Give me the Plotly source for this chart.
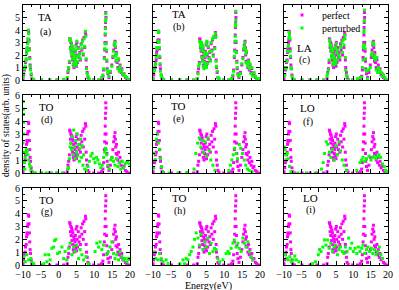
import plotly.graph_objects as go
from plotly.subplots import make_subplots

# ---------------- data ----------------
perf_E = [-10.0, -9.8, -9.6, -9.4, -9.3, -9.1, -9.0, -8.9, -8.8, -8.7,
          -8.6, -8.5, -8.4, -8.3, -8.2, -8.1, -8.0, -7.9, -7.7, -7.5,
          -7.0, -4.8, -2.5, -0.5, 1.4,
          2.4, 2.6, 2.8, 3.0, 3.1, 3.2, 3.3, 3.4, 3.5, 3.6,
          3.7, 3.8, 3.9, 4.0, 4.1, 4.2, 4.3, 4.4, 4.5, 4.6,
          4.7, 4.8, 4.9, 5.0, 5.1, 5.2, 5.3, 5.5, 5.7, 5.9,
          6.1, 6.3, 6.5, 6.7, 6.9, 7.1, 7.3, 7.5, 7.6, 7.7,
          7.8, 8.0, 8.2, 8.5,
          9.8, 11.2,
          12.0, 12.4, 12.6, 12.8, 12.9, 13.0, 13.05, 13.1, 13.15, 13.2,
          13.25, 13.3, 13.4, 13.5, 13.6, 13.8, 14.1, 14.5, 14.9, 15.2,
          15.4, 15.6, 15.8, 15.9, 16.0, 16.1, 16.2, 16.4, 16.6, 16.8,
          17.0, 17.2, 17.5, 17.7, 18.0, 18.3, 18.7, 19.1, 19.6]

perf_D = [0.1, 0.4, 0.8, 1.0, 1.4, 1.6, 2.2, 2.5, 2.4, 3.0,
          3.2, 3.9, 3.8, 3.2, 2.5, 1.8, 1.2, 0.9, 0.4, 0.1,
          0, 0, 0, 0, 0,
          0.1, 0.6, 0.9, 1.4, 3.3, 3.2, 2.6, 3.0, 2.3, 2.9,
          1.9, 2.7, 1.6, 2.5, 1.2, 2.2, 1.0, 2.0, 1.5, 1.8,
          2.3, 1.3, 2.8, 1.1, 3.0, 2.0, 1.4, 2.6, 1.8, 2.2,
          1.6, 2.9, 2.4, 3.2, 2.0, 3.4, 2.6, 3.8, 3.6, 1.6,
          1.0, 0.6, 0.2, 0.05,
          0, 0,
          0.1, 0.3, 0.8, 1.8, 2.4, 3.0, 3.6, 4.2, 4.6, 5.4,
          5.0, 3.0, 2.3, 1.5, 0.9, 0.5, 0.2, 0.6, 1.2, 1.8,
          2.4, 2.8, 3.1, 2.6, 2.0, 1.5, 2.2, 1.4, 1.0, 1.6,
          0.8, 1.2, 0.6, 0.9, 0.4, 0.5, 0.2, 0.1, 0.0]

# perturbed, panels (a)-(c): same energy grid as perfect
pert_a_D = [0.2, 0.5, 0.9, 1.1, 1.5, 1.7, 2.1, 2.4, 2.6, 2.9,
            3.3, 4.0, 3.7, 3.1, 2.4, 1.7, 1.1, 0.8, 0.5, 0.1,
            0, 0, 0, 0, 0.05,
            0.2, 0.7, 1.0, 1.5, 3.2, 3.3, 2.5, 3.1, 2.2, 2.8,
            2.0, 2.6, 1.7, 2.4, 1.3, 2.1, 1.1, 1.9, 1.6, 1.7,
            2.4, 1.4, 2.7, 1.2, 3.1, 1.9, 1.5, 2.5, 1.9, 2.1,
            1.7, 2.8, 2.5, 3.1, 2.1, 3.3, 2.7, 3.9, 3.5, 1.7,
            0.9, 0.5, 0.3, 0.1,
            0, 0,
            0.2, 0.4, 0.9, 1.7, 2.5, 2.9, 3.7, 4.1, 4.7, 5.3,
            4.9, 2.9, 2.4, 1.6, 0.8, 0.6, 0.3, 0.7, 1.1, 1.9,
            2.3, 2.9, 3.0, 2.7, 1.9, 1.6, 2.1, 1.5, 0.9, 1.7,
            0.7, 1.1, 0.7, 0.8, 0.5, 0.4, 0.3, 0.2, 0.05]

pert_b_D = [0.1, 0.6, 0.8, 1.2, 1.3, 1.8, 2.0, 2.6, 2.5, 3.1,
            3.1, 3.8, 3.9, 3.0, 2.6, 1.9, 1.3, 0.7, 0.4, 0.2,
            0, 0, 0, 0, 0,
            0.1, 0.5, 1.1, 1.3, 3.1, 3.0, 2.7, 2.9, 2.4, 3.0,
            1.8, 2.8, 1.5, 2.6, 1.1, 2.3, 0.9, 2.1, 1.4, 1.9,
            2.2, 1.2, 2.9, 1.0, 3.1, 2.1, 1.3, 2.7, 1.7, 2.3,
            1.5, 3.0, 2.3, 3.3, 1.9, 3.5, 2.5, 3.7, 3.4, 1.5,
            1.1, 0.7, 0.2, 0.1,
            0, 0,
            0.1, 0.4, 0.7, 1.9, 2.3, 3.1, 3.5, 4.3, 4.5, 5.5,
            4.8, 3.1, 2.2, 1.4, 1.0, 0.4, 0.3, 0.5, 1.3, 1.7,
            2.5, 2.7, 3.0, 2.5, 2.1, 1.4, 2.3, 1.3, 1.1, 1.5,
            0.9, 1.3, 0.5, 1.0, 0.3, 0.6, 0.3, 0.1, 0.1]

pert_c_D = [0.3, 0.4, 1.0, 0.9, 1.5, 1.5, 2.3, 2.3, 2.7, 2.8,
            3.4, 3.8, 3.6, 3.3, 2.3, 1.9, 1.0, 0.9, 0.3, 0.1,
            0, 0, 0, 0, 0,
            0.3, 0.5, 0.8, 1.6, 3.2, 3.1, 2.8, 2.8, 2.4, 2.7,
            2.0, 2.5, 1.8, 2.3, 1.4, 2.0, 1.2, 1.8, 1.7, 1.6,
            2.5, 1.5, 2.6, 1.3, 2.9, 2.2, 1.6, 2.4, 2.0, 2.0,
            1.8, 2.7, 2.6, 3.0, 2.2, 3.2, 2.8, 3.6, 3.3, 1.8,
            0.8, 0.4, 0.3, 0.0,
            0, 0.1,
            0.2, 0.2, 1.0, 1.6, 2.6, 2.8, 3.8, 4.0, 4.8, 5.6,
            4.7, 2.8, 2.5, 1.7, 0.8, 0.7, 0.1, 0.8, 1.0, 2.0,
            2.2, 3.0, 2.9, 2.8, 1.8, 1.7, 2.0, 1.6, 0.8, 1.8,
            0.6, 1.0, 0.8, 0.7, 0.6, 0.3, 0.4, 0.2, 0.0]

# perturbed, panel (d) TO
pert_d_E = [-10.0, -9.95, -9.9, -9.85, -9.8, -9.75, -9.7, -9.6, -9.5, -9.4,
            -9.2, -9.0, -8.8, -8.6, -8.4, -8.2, -8.0, -7.8, -7.5,
            -6.5, -5.0, -3.5, -2.0, -0.5, 1.0,
            2.5, 2.8, 3.0, 3.2, 3.4, 3.6, 3.8, 4.0, 4.2, 4.4,
            4.6, 4.8, 5.0, 5.2, 5.4, 5.6, 5.8, 6.0, 6.2, 6.4,
            6.6, 6.8, 7.0, 7.3,
            7.8, 8.2, 8.6, 9.0, 9.4, 9.8, 10.2, 10.6, 11.0, 11.4, 11.8, 12.2,
            12.6, 12.9, 13.1, 13.3, 13.5, 13.8, 14.2, 14.6, 15.0, 15.4,
            15.8, 16.2, 16.6, 17.0, 17.4, 17.8, 18.2, 18.6, 19.0, 19.4, 19.8]
pert_d_D = [2.3, 5.5, 4.9, 4.5, 3.9, 3.0, 1.6, 0.8, 0.3, 1.2,
            1.5, 1.8, 1.7, 1.4, 1.0, 0.7, 0.5, 0.2, 0.1,
            0, 0, 0, 0, 0, 0,
            0.3, 0.4, 1.1, 2.0, 2.3, 1.8, 2.8, 1.4, 3.3, 2.0,
            1.1, 2.5, 1.6, 3.0, 1.3, 2.2, 0.9, 1.9, 2.6, 1.2,
            2.1, 0.6, 1.4, 0.3,
            0.2, 0.5, 0.9, 1.3, 1.5, 1.1, 0.8, 1.2, 1.0, 0.7, 0.4, 0.6,
            1.2, 1.6, 1.9, 1.8, 1.4, 0.6, 0.3, 1.0, 1.2, 0.9,
            0.6, 1.1, 0.5, 0.8, 0.3, 0.9, 0.4, 0.7, 0.8, 0.9, 0.7]

# perturbed, panel (e) TO
pert_e_E = [-9.9, -9.6, -9.3, -9.0, -8.8, -8.5, -8.2, -7.9, -7.6, -7.3,
            -5.5, -3.0, -0.5,
            1.5, 2.0, 2.5, 3.0, 3.4, 3.8, 4.2, 4.6, 5.0, 5.4, 5.8, 6.2, 6.8, 7.4,
            11.3, 11.7, 12.1, 12.5, 12.9, 13.3, 13.7, 14.2, 14.6, 15.1,
            15.6, 16.0, 16.5, 17.0, 17.8]
pert_e_D = [0.4, 1.5, 1.0, 2.6, 3.0, 2.3, 1.8, 1.1, 0.5, 0.1,
            0, 0, 0.05,
            0.3, 1.5, 2.3, 2.7, 2.0, 2.5, 1.6, 2.4, 1.3, 2.7, 1.7, 1.0, 0.6, 0.2,
            0.2, 0.6, 1.0, 1.4, 1.9, 1.5, 1.1, 2.2, 1.9, 1.5,
            1.0, 0.6, 0.3, 0.2, 0.1]

# perturbed, panel (f) LO
pert_f_E = [-9.9, -9.7, -9.5, -9.3, -9.1, -8.8, -8.4, -8.0, -7.5,
            -6.0, -3.5, -1.0,
            0.8, 1.3, 1.7, 2.2, 2.6, 3.1, 3.5, 4.0, 4.5, 5.0, 5.4, 5.9, 6.3, 6.8, 7.3, 8.0,
            11.0, 11.9, 12.4, 12.8, 13.3, 13.8, 14.5, 15.1, 15.6, 16.0,
            16.5, 17.0, 17.4, 17.9, 18.4, 18.9, 19.3, 19.7]
pert_f_D = [2.0, 1.8, 1.4, 1.0, 1.5, 1.1, 0.5, 0.1, 0.05,
            0, 0, 0,
            0.3, 0.8, 1.5, 2.4, 2.2, 1.6, 1.2, 1.8, 1.0, 2.1, 1.4, 2.4, 1.7, 1.0, 0.6, 0.2,
            0.2, 0.8, 1.0, 1.2, 0.9, 1.1, 1.3, 1.0, 1.2, 1.3,
            1.1, 1.3, 1.4, 1.2, 0.7, 0.5, 0.2, 0.1]

# perturbed, panel (g) TO
pert_g_E = [-9.8, -9.35, -8.9, -8.4, -7.8, -7.5, -7.0,
            -4.2, -3.8, -3.3, -2.8, -2.4,
            -1.9, -1.4, -1.15, -0.8, -0.3, 0.25, 0.9, 1.4, 1.8, 2.3,
            2.8, 3.2, 3.7, 4.2, 4.6, 5.1, 5.6, 6.0, 6.5, 7.0, 7.7, 8.4,
            10.2, 10.7, 11.2, 11.6, 12.1, 12.6, 13.5, 13.9, 14.4, 14.9,
            15.4, 15.8, 16.3, 16.8, 17.2, 17.7, 18.2, 18.6, 19.1, 19.5, 19.9]
pert_g_D = [0.65, 0.25, 0.8, 0.4, 0.5, 0.2, 0.1,
            0.1, 0.8, 0.25, 0.8, 0.4,
            1.3, 1.4, 1.9, 2.0, 0.9, 1.0, 1.4, 0.5, 1.05, 0.4,
            1.3, 1.7, 0.8, 1.4, 1.05, 1.55, 0.5, 1.2, 0.8, 0.4, 0.65, 0.1,
            1.05, 1.7, 1.4, 1.8, 1.2, 1.55, 0.8, 1.05, 1.4, 1.8,
            0.9, 0.5, 0.8, 0.4, 1.05, 0.65, 0.4, 0.5, 0.25, 0.5, 0.4]

# perturbed, panel (h) TO
pert_h_E = [-9.8, -9.25, -8.6, -8.15, -7.7, -7.2, -6.3, -5.8,
            -2.5, -1.6, -1.15, -0.7, -0.2, 0.25, 0.7, 1.2, 1.65, 2.1,
            2.6, 3.05, 3.5, 4.0, 4.45, 4.9, 5.4, 5.85, 6.3, 6.8,
            7.25, 7.7, 8.2, 8.65, 9.6,
            10.5, 11.0, 11.4, 11.9, 12.4, 12.8, 13.3, 13.8, 14.2, 14.7,
            15.2, 15.6, 16.1, 16.6, 17.0, 17.5, 18.0]
pert_h_D = [1.0, 0.5, 0.4, 0.9, 0.5, 0.25, 0.4, 0.1,
            0.1, 0.4, 0.1, 0.5, 0.4, 0.8, 1.05, 1.4, 2.0, 2.5,
            2.1, 1.55, 2.4, 1.2, 1.8, 1.4, 2.1, 0.9, 1.7, 1.05,
            1.3, 1.2, 0.5, 0.25, 0.4,
            0.9, 1.05, 0.9, 1.3, 1.7, 1.95, 1.4, 1.7, 1.3, 1.05,
            2.1, 1.7, 1.4, 1.8, 1.05, 0.65, 0.4]

# perturbed, panel (i) LO
pert_i_E = [-9.7, -9.25, -8.8, -8.3, -7.85, -7.4, -6.9, -6.45, -5.7,
            -1.8, -0.9, -0.1, 0.25, 0.7, 1.2, 1.65, 2.1, 2.6, 3.05,
            3.5, 4.0, 4.45, 4.9, 5.4, 5.85, 6.3, 6.8, 7.25, 7.7,
            8.2, 8.65, 9.1, 9.55, 10.0, 10.5, 11.0, 11.45, 11.9, 12.4,
            12.8, 13.3, 13.8, 14.2, 14.7, 15.2, 15.6, 16.1, 16.55, 17.0,
            17.5, 17.95, 18.4]
pert_i_D = [0.8, 0.5, 0.4, 0.65, 0.25, 0.4, 0.7, 0.4, 0.25,
            0.1, 0.25, 0.8, 1.2, 1.05, 1.4, 1.95, 1.55, 1.95, 1.3,
            1.7, 1.05, 1.4, 1.55, 0.8, 1.2, 1.4, 1.05, 0.9, 1.4,
            1.05, 2.1, 1.3, 1.7, 1.05, 1.3, 0.9, 1.4, 1.05, 1.3,
            1.55, 0.9, 1.2, 1.4, 1.05, 1.3, 0.9, 1.2, 0.8, 1.05,
            1.4, 0.8, 0.5]

mode_labels = ["TA", "TA", "LA", "TO", "TO", "LO", "TO", "TO", "LO"]
panel_letters = ["(a)", "(b)", "(c)", "(d)", "(e)", "(f)", "(g)", "(h)", "(i)"]
x_ticks = [-10, -5, 0, 5, 10, 15, 20]
y_ticks = [0, 1, 2, 3, 4, 5, 6]
series_names = ["perfect", "perturbed"]

pert_E = [perf_E, perf_E, perf_E, pert_d_E, pert_e_E, pert_f_E, pert_g_E, pert_h_E, pert_i_E]
pert_D = [pert_a_D, pert_b_D, pert_c_D, pert_d_D, pert_e_D, pert_f_D, pert_g_D, pert_h_D, pert_i_D]

# label positions (data coords) per panel
mode_pos = [(-3.8, 5.05), (-2.85, 5.25), (-3.95, 2.6), (-3.3, 5.1), (-2.9, 5.15),
            (-3.1, 5.0), (-3.3, 5.1), (-2.45, 5.2), (-2.5, 5.25)]
letter_pos = [(-3.8, 3.85), (-2.85, 4.25), (-3.95, 1.6), (-3.3, 4.1), (-2.9, 4.15),
              (-3.1, 3.9), (-3.3, 4.1), (-2.45, 4.2), (-2.5, 4.25)]

# ---------------- figure ----------------
W, H = 399, 290
FONT = "Liberation Serif"
MAG = "#ff00ff"
GRN = "#00ff00"

fig = make_subplots(rows=3, cols=3)

col_px = [(23, 130), (153, 260), (284, 388)]
row_px = [(5, 80), (95, 173), (188, 265)]

for k in range(9):
    r, c = k // 3 + 1, k % 3 + 1
    fig.add_trace(go.Scatter(x=perf_E, y=perf_D, mode="markers", name=series_names[0],
                             marker=dict(color=MAG, size=3, symbol="square"),
                             showlegend=(k == 0), legend="legend"), row=r, col=c)
    fig.add_trace(go.Scatter(x=pert_E[k], y=pert_D[k], mode="markers", name=series_names[1],
                             marker=dict(color=GRN, size=3, symbol="square"),
                             showlegend=(k == 0), legend="legend2"), row=r, col=c)

annotations = []
for k in range(9):
    r, c = k // 3, k % 3
    axn = "" if k == 0 else str(k + 1)
    x0, x1 = col_px[c]
    y0, y1 = row_px[r]
    fig.layout["xaxis" + axn].update(
        domain=[x0 / W, x1 / W], range=[-10, 20], tickvals=x_ticks, tickangle=0,
        showticklabels=(r == 2), ticks="inside", ticklen=4, tickwidth=1, tickcolor="black",
        minor=dict(ticks="inside", ticklen=2, dtick=2.5, tick0=0, tickcolor="black"),
        showline=True, mirror="allticks", linecolor="black", linewidth=1,
        showgrid=False, zeroline=False, automargin=False,
        tickfont=dict(family=FONT, size=10, color="black"))
    fig.layout["yaxis" + axn].update(
        domain=[1 - y1 / H, 1 - y0 / H], range=[0, 6], tickvals=y_ticks,
        showticklabels=(c == 0), ticks="inside", ticklen=4, tickwidth=1, tickcolor="black",
        minor=dict(ticks="inside", ticklen=2, dtick=0.5, tick0=0, tickcolor="black"),
        showline=True, mirror="allticks", linecolor="black", linewidth=1,
        showgrid=False, zeroline=False, automargin=False,
        tickfont=dict(family=FONT, size=10, color="black"))
    xr = "x" + axn
    yr = "y" + axn
    annotations.append(dict(x=mode_pos[k][0], y=mode_pos[k][1], xref=xr, yref=yr,
                            xanchor="center", yanchor="middle",
                            text=mode_labels[k], showarrow=False,
                            font=dict(family=FONT, size=11, color="black")))
    annotations.append(dict(x=letter_pos[k][0], y=letter_pos[k][1], xref=xr, yref=yr,
                            xanchor="center", yanchor="middle",
                            text=panel_letters[k], showarrow=False,
                            font=dict(family=FONT, size=10, color="black")))

annotations.append(dict(x=6 / W, y=1 - 126 / H, xref="paper", yref="paper",
                        xanchor="center", yanchor="middle",
                        text="density of states(arb. units)", textangle=-90, showarrow=False,
                        font=dict(family=FONT, size=9.5, color="black")))
annotations.append(dict(x=208 / W, y=1 - 285.5 / H, xref="paper", yref="paper",
                        xanchor="center", yanchor="middle",
                        text="Energy(eV)", showarrow=False,
                        font=dict(family=FONT, size=10, color="black")))

leg_common = dict(x=282 / W, xanchor="left", yanchor="middle",
                  bgcolor="rgba(0,0,0,0)", font=dict(family=FONT, size=10, color="black"),
                  itemwidth=30)
fig.update_layout(
    width=W, height=H, margin=dict(l=0, r=0, t=0, b=0, autoexpand=False),
    paper_bgcolor="white", plot_bgcolor="white",
    annotations=annotations,
    legend=dict(y=1 - 15 / H, **leg_common),
    legend2=dict(y=1 - 28 / H, **leg_common),
)

fig.write_html("out.html", config={"displayModeBar": False},
               post_script="document.body.style.margin='0px';")
